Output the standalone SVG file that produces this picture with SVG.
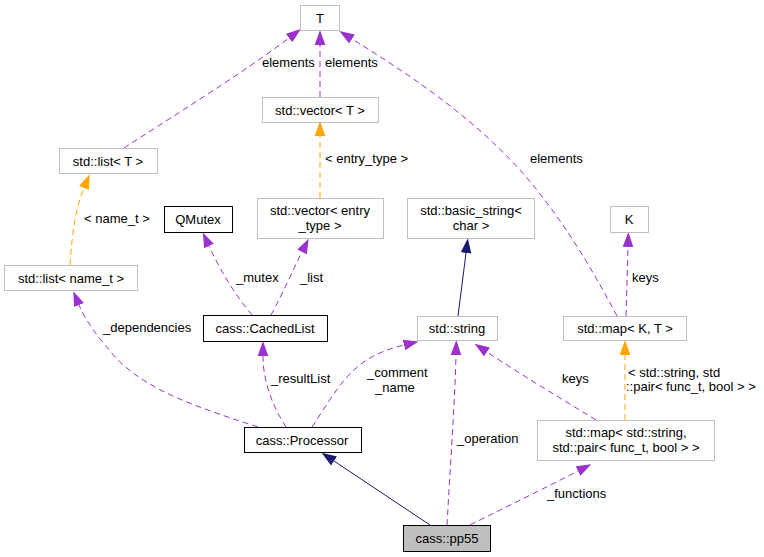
<svg xmlns="http://www.w3.org/2000/svg" width="764" height="557" viewBox="0 0 764 557">
<style>
text{font-family:"Liberation Sans",Arial,sans-serif;font-size:13px;fill:#000}
.c{text-anchor:middle}
.g{fill:#fff;stroke:#bfbfbf;stroke-width:1}
.b{fill:#fff;stroke:#000;stroke-width:1}
.p{fill:none;stroke:#9a32cd;stroke-width:1;stroke-dasharray:6,4;marker-end:url(#ap)}
.o{fill:none;stroke:#ffa500;stroke-width:1;stroke-dasharray:6,4;marker-end:url(#ao)}
.n{fill:none;stroke:#191970;stroke-width:1;marker-end:url(#an)}
</style>
<defs>
<marker id="ap" markerUnits="userSpaceOnUse" markerWidth="16" markerHeight="12" refX="0" refY="5" orient="auto" viewBox="0 0 15 10"><path d="M0,0L14,5L0,10z" fill="#9a32cd"/></marker>
<marker id="ao" markerUnits="userSpaceOnUse" markerWidth="16" markerHeight="12" refX="0" refY="5" orient="auto" viewBox="0 0 15 10"><path d="M0,0L14,5L0,10z" fill="#ffa500"/></marker>
<marker id="an" markerUnits="userSpaceOnUse" markerWidth="16" markerHeight="12" refX="0" refY="5" orient="auto" viewBox="0 0 15 10"><path d="M0,0L14,5L0,10z" fill="#191970"/></marker>
</defs>
<rect width="764" height="557" fill="#fff"/>
<g id="connectors">
<path class="p" d="M124,148 C170,118 240,75 289,38"/>
<path class="p" d="M320,97 L320,45"/>
<path class="p" d="M617,316 C590,265 560,215 520,170 C470,115 410,75 352,39"/>
<path class="o" d="M320,198 L320,136"/>
<path class="o" d="M70,265 C72,235 75,210 84,188"/>
<path class="p" d="M252,315 C235,295 220,270 209,246"/>
<path class="p" d="M271,315 C282,295 292,272 302,252"/>
<path class="p" d="M286,427 C275,410 263,385 263,356"/>
<path class="p" d="M258,427 C200,408 150,392 118,360 C100,340 86,322 79,305"/>
<path class="p" d="M312,427 C330,400 345,372 370,358 C380,352 392,348 404,345"/>
<path class="p" d="M447,525 C450,470 455,400 456,355"/>
<path class="p" d="M596,420 C560,398 520,374 487,352"/>
<path class="p" d="M470,525 C510,505 545,488 578,471"/>
<path class="n" d="M430,525 L334,461"/>
<path class="n" d="M458,316 L466,253"/>
<path class="p" d="M626,316 L628,247"/>
<path class="o" d="M625,420 L625,355"/>
</g>
<g id="edge-labels">
<text x="262" y="67">elements</text>
<text x="325" y="67">elements</text>
<text x="530" y="163">elements</text>
<text x="325" y="163">&lt; entry_type &gt;</text>
<text x="84" y="223">&lt; name_t &gt;</text>
<text x="236" y="282">_mutex</text>
<text x="300" y="282">_list</text>
<text x="103" y="332">_dependencies</text>
<text x="632" y="282">keys</text>
<text x="271" y="383">_resultList</text>
<text x="367" y="377">_comment</text>
<text x="375" y="392">_name</text>
<text x="457" y="443">_operation</text>
<text x="562" y="383">keys</text>
<text x="628" y="377">&lt; std::string, std</text>
<text x="626" y="391">::pair&lt; func_t, bool &gt; &gt;</text>
<text x="547" y="498">_functions</text>
</g>
<g id="T"><rect class="g" x="300.5" y="5.5" width="39" height="25"/><text class="c" x="320" y="23">T</text></g>
<g id="vectorT"><rect class="g" x="262.5" y="97.5" width="116" height="25"/><text class="c" x="320" y="115">std::vector&lt; T &gt;</text></g>
<g id="listT"><rect class="g" x="59.5" y="148.5" width="98" height="25"/><text class="c" x="108" y="166">std::list&lt; T &gt;</text></g>
<g id="vectorEntry"><rect class="g" x="257.5" y="198.5" width="126" height="40"/><text class="c" x="320" y="215">std::vector&lt; entry</text><text class="c" x="320" y="230">_type &gt;</text></g>
<g id="QMutex"><rect class="b" x="164.5" y="206.5" width="68" height="26"/><text class="c" x="198" y="224">QMutex</text></g>
<g id="listName"><rect class="g" x="4.5" y="265.5" width="133" height="25"/><text class="c" x="71" y="283">std::list&lt; name_t &gt;</text></g>
<g id="CachedList"><rect class="b" x="203.5" y="315.5" width="124" height="26"/><text class="c" x="265" y="333">cass::CachedList</text></g>
<g id="basicString"><rect class="g" x="407.5" y="198.5" width="127" height="40"/><text class="c" x="471" y="215">std::basic_string&lt;</text><text class="c" x="471" y="230">char &gt;</text></g>
<g id="K"><rect class="g" x="610.5" y="206.5" width="38" height="26"/><text class="c" x="629" y="224">K</text></g>
<g id="string"><rect class="g" x="417.5" y="316.5" width="80" height="24"/><text class="c" x="457" y="333">std::string</text></g>
<g id="mapKT"><rect class="g" x="563.5" y="316.5" width="123" height="24"/><text class="c" x="625" y="333">std::map&lt; K, T &gt;</text></g>
<g id="Processor"><rect class="b" x="244.5" y="427.5" width="117" height="25"/><text class="c" x="302" y="445">cass::Processor</text></g>
<g id="mapString"><rect class="g" x="537.5" y="420.5" width="177" height="40"/><text class="c" x="626" y="437">std::map&lt; std::string,</text><text class="c" x="626" y="452"> std::pair&lt; func_t, bool &gt; &gt;</text></g>
<g id="pp55"><rect x="403.5" y="525.5" width="87" height="26" fill="#bfbfbf" stroke="#000"/><text class="c" x="447" y="543">cass::pp55</text></g>
</svg>
